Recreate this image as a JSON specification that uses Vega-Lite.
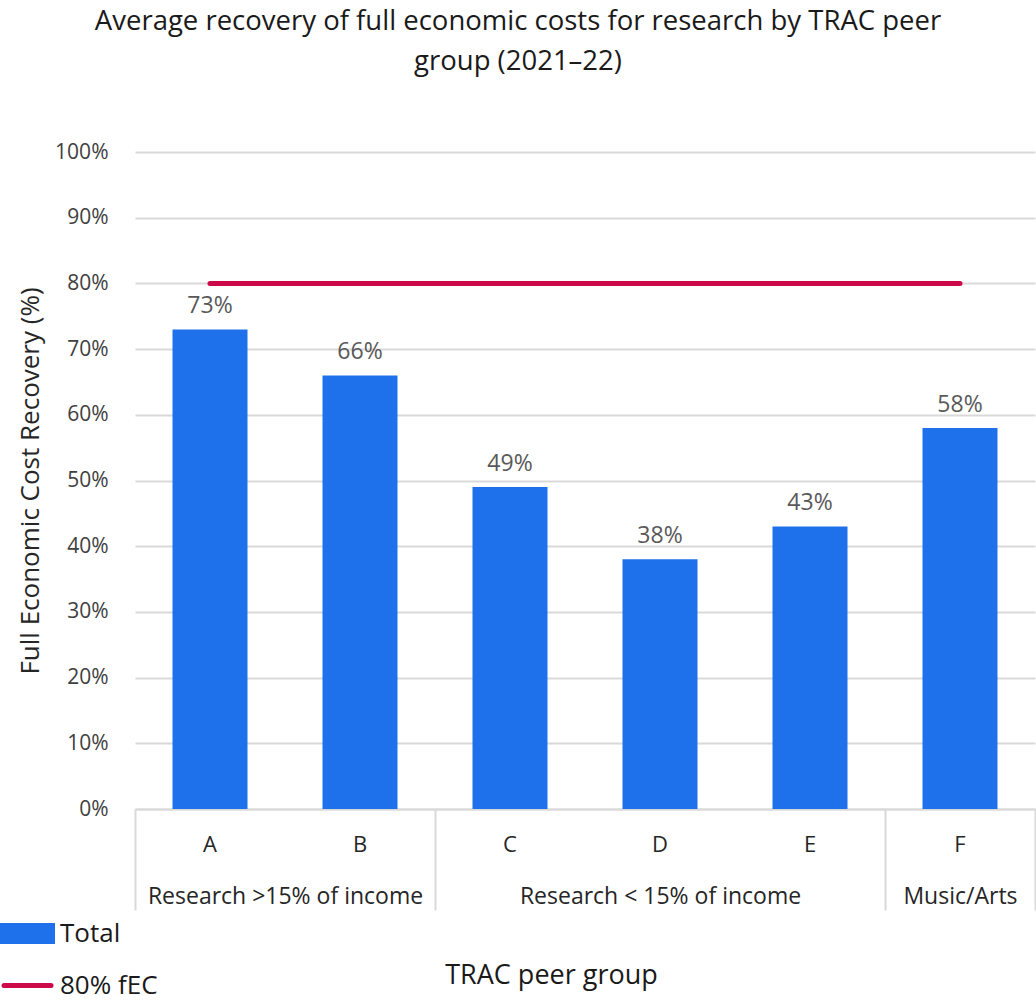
{
  "$schema": "https://vega.github.io/schema/vega-lite/v6.json",
  "width": 900,
  "height": 657,
  "autosize": {"type": "none"},
  "padding": {"left": 135, "top": 152, "right": 1, "bottom": 192},
  "background": "white",
  "config": {"font": "Open Sans", "view": {"stroke": null}},
  "title": {
    "text": ["Average recovery of full economic costs for research by TRAC peer", "group (2021–22)"],
    "anchor": "middle",
    "dx": -67,
    "fontSize": 27.5,
    "fontWeight": "normal",
    "color": "#1a1a1a",
    "lineHeight": 40,
    "offset": 66
  },
  "data": {
    "values": [
      {"cat": "A", "group": "Research >15% of income", "total": 0.73, "fec": 0.8},
      {"cat": "B", "group": "Research >15% of income", "total": 0.66, "fec": 0.8},
      {"cat": "C", "group": "Research < 15%  of income", "total": 0.49, "fec": 0.8},
      {"cat": "D", "group": "Research < 15%  of income", "total": 0.38, "fec": 0.8},
      {"cat": "E", "group": "Research < 15%  of income", "total": 0.43, "fec": 0.8},
      {"cat": "F", "group": "Music/Arts", "total": 0.58, "fec": 0.8}
    ]
  },
  "resolve": {"axis": {"x": "independent"}},
  "layer": [
    {
      "mark": {"type": "bar", "width": {"band": 0.5}},
      "encoding": {
        "x": {
          "field": "cat", "type": "nominal", "sort": null,
          "scale": {"paddingInner": 0, "paddingOuter": 0},
          "axis": {
            "title": null, "labelAngle": 0, "domainColor": "#d9d9d9", "domainWidth": 2,
            "ticks": false, "tickSize": 0, "labelPadding": 42, "labelBaseline": "alphabetic",
            "labelFontSize": 22, "labelColor": "#262626"
          }
        },
        "y": {
          "field": "total", "type": "quantitative",
          "scale": {"domain": [0, 1]},
          "axis": {
            "title": "Full Economic Cost Recovery (%)", "format": ".0%",
            "values": [0, 0.1, 0.2, 0.3, 0.4, 0.5, 0.6, 0.7, 0.8, 0.9, 1],
            "domain": false, "ticks": false, "tickSize": 0, "labelPadding": 27,
            "labelFontSize": 21, "labelColor": "#404040",
            "gridColor": "#d9d9d9", "gridWidth": 2,
            "titleFontSize": 26, "titleFontWeight": "normal", "titleColor": "#262626",
            "titleX": -105, "titleBaseline": "middle"
          }
        },
        "color": {
          "datum": "Total", "type": "nominal",
          "scale": {"domain": ["Total", "80% fEC"], "range": ["#1f71eb", "#cc0a4a"]},
          "legend": {
            "title": null, "orient": "none", "legendX": -135, "legendY": 754,
            "padding": 0, "symbolSize": 2500, "rowPadding": 6, "labelOffset": 5,
            "labelFontSize": 26, "labelColor": "#1a1a1a",
            "encode": {
              "symbols": {
                "update": {
                  "shape": {"signal": "datum.value === 'Total' ? 'M-1,-0.32H1V0.32H-1Z' : 'M-0.94,0H0.94'"},
                  "fill": {"signal": "datum.value === 'Total' ? '#1f71eb' : 'transparent'"},
                  "stroke": {"signal": "datum.value === 'Total' ? 'transparent' : '#cc0a4a'"},
                  "strokeWidth": {"value": 5},
                  "strokeCap": {"value": "round"},
                  "opacity": {"value": 1}
                }
              }
            }
          }
        }
      }
    },
    {
      "mark": {"type": "text", "baseline": "bottom", "dy": -11, "fontSize": 23, "color": "#595959"},
      "encoding": {
        "x": {"field": "cat", "type": "nominal", "sort": null, "axis": null},
        "y": {"field": "total", "type": "quantitative"},
        "text": {"field": "total", "type": "quantitative", "format": ".0%"}
      }
    },
    {
      "mark": {"type": "line", "strokeWidth": 5, "strokeCap": "round"},
      "encoding": {
        "x": {
          "field": "cat", "type": "nominal", "sort": null,
          "axis": {
            "orient": "bottom", "domain": false, "ticks": true, "tickBand": "extent",
            "tickSize": 101, "tickWidth": 2,
            "tickColor": {"condition": {"test": "datum.extra || indexof(['B','E','F'], datum.value) >= 0", "value": "#d9d9d9"}, "value": "transparent"},
            "labelExpr": "datum.value == 'A' ? 'Research >15% of income' : datum.value == 'D' ? 'Research < 15%  of income' : datum.value == 'F' ? 'Music/Arts' : ''",
            "labelOffset": {"condition": {"test": "datum.value == 'A'", "value": 75}, "value": 0},
            "labelPadding": -7, "labelBaseline": "alphabetic", "labelAngle": 0,
            "labelOverlap": false, "labelBound": false, "labelFlush": false,
            "labelLimit": 500,
            "labelFontSize": 23, "labelColor": "#262626",
            "title": "TRAC peer group", "titleFontSize": 27, "titleFontWeight": "normal",
            "titleColor": "#1a1a1a", "titleX": 416, "titleY": 166, "titleBaseline": "middle"
          }
        },
        "y": {"field": "fec", "type": "quantitative"},
        "color": {"datum": "80% fEC", "type": "nominal"}
      }
    }
  ]
}
